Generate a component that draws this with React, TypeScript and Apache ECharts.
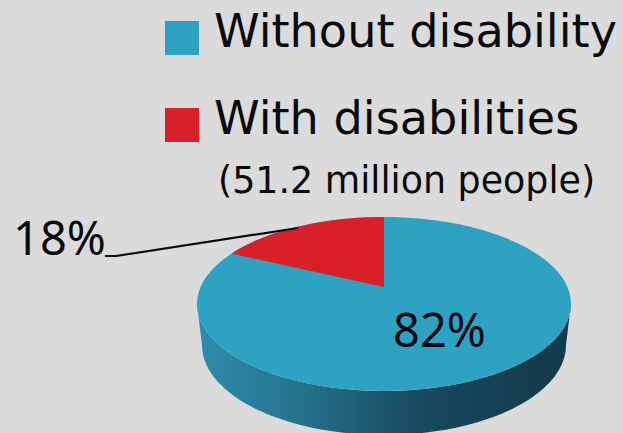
import React, { useEffect, useRef } from "react";
import * as echarts from "echarts";

const seriesNames = ["Without disability", "With disabilities"];
const seriesValues = [82, 18];
const seriesColors = ["#2ea2c2", "#d91f27"];
const subLabel = "(51.2 million people)";

const FONT = "'Noto Sans', sans-serif";
const LEGEND_FONT = "'DejaVu Sans', sans-serif";
const TOP = { cx: 384, cy: 304, rx: 187, ry: 87, tipY: 287 };
const BOTTOM = { cx: 384, cy: 345, rx: 182, ry: 90 };

// Point where a ray from the pie's tilted centre, at the value's angle, meets the top ellipse.
function rimPoint(frac: number): number[] {
  const a = frac * Math.PI * 2;
  const dx = -Math.sin(a) * TOP.rx;
  const dy = -Math.cos(a) * TOP.ry;
  const off = TOP.tipY - TOP.cy;
  const A = (dx * dx) / (TOP.rx * TOP.rx) + (dy * dy) / (TOP.ry * TOP.ry);
  const B = (2 * off * dy) / (TOP.ry * TOP.ry);
  const C = (off * off) / (TOP.ry * TOP.ry) - 1;
  const s = (-B + Math.sqrt(B * B - 4 * A * C)) / (2 * A);
  return [TOP.cx + dx * s, TOP.tipY + dy * s];
}

function ellipsePoints(e: any, from: number, to: number, n: number): number[][] {
  const out: number[][] = [];
  for (let i = 0; i <= n; i++) {
    const t = from + ((to - from) * i) / n;
    out.push([e.cx + e.rx * Math.cos(t), e.cy + e.ry * Math.sin(t)]);
  }
  return out;
}

function renderWithout(_p: any, api: any) {
  const value = api.value(0);
  const side = [
    ...ellipsePoints(TOP, Math.PI, 0, 60),
    ...ellipsePoints(BOTTOM, 0, Math.PI, 80),
  ];
  return {
    type: "group",
    children: [
      {
        type: "polygon",
        shape: { points: side },
        style: {
          fill: new echarts.graphic.LinearGradient(0, 0, 1, 0, [
            { offset: 0, color: "#2f8dac" },
            { offset: 0.3, color: "#237089" },
            { offset: 0.6, color: "#17495d" },
            { offset: 1, color: "#123a4a" },
          ]),
        },
      },
      {
        type: "ellipse",
        shape: { cx: TOP.cx, cy: TOP.cy, rx: TOP.rx, ry: TOP.ry },
        style: { fill: seriesColors[0] },
      },
      {
        type: "text",
        x: 393,
        y: 329,
        style: {
          text: value + "%",
          font: `47px ${FONT}`,
          fill: "#0a0a14",
          textAlign: "left",
          textVerticalAlign: "middle",
        },
      },
    ],
  };
}

function renderWith(_p: any, api: any) {
  const value = api.value(0);
  const frac = value / 100;
  const pts: number[][] = [[TOP.cx, TOP.tipY]];
  for (let i = 0; i <= 40; i++) pts.push(rimPoint((frac * i) / 40));
  return {
    type: "group",
    children: [
      {
        type: "polygon",
        shape: { points: pts },
        style: { fill: seriesColors[1] },
      },
      {
        type: "polyline",
        shape: { points: [[105, 256], [116, 256], [298, 228]] },
        style: { stroke: "#0a0a0a", lineWidth: 2.2, fill: "none" },
      },
      {
        type: "text",
        x: 13,
        y: 237,
        style: {
          text: value + "%",
          font: `47px ${FONT}`,
          fill: "#0a0a0a",
          textAlign: "left",
          textVerticalAlign: "middle",
        },
      },
    ],
  };
}

export default function App() {
  const ref = useRef<HTMLDivElement>(null);
  useEffect(() => {
    document.body.style.margin = "0";
    const chart = echarts.init(ref.current!, undefined, { renderer: "svg" });
    chart.setOption({
      animation: false,
      backgroundColor: "#dbdbdb",
      legend: {
        orient: "vertical",
        left: 165,
        top: 8,
        padding: 0,
        itemWidth: 34,
        itemHeight: 34,
        itemGap: 40,
        selectedMode: false,
        icon: "rect",
        data: seriesNames,
        formatter: "{a|{name}}",
        textStyle: {
          rich: {
            a: {
              fontFamily: LEGEND_FONT,
              fontSize: 46.2,
              color: "#0a0a0a",
              padding: [0, 0, 14, 10],
            },
          },
        },
      },
      series: [
        {
          type: "custom",
          name: seriesNames[0],
          coordinateSystem: "none",
          silent: true,
          itemStyle: { color: seriesColors[0] },
          data: [seriesValues[0]],
          renderItem: renderWithout,
        },
        {
          type: "custom",
          name: seriesNames[1],
          coordinateSystem: "none",
          silent: true,
          itemStyle: { color: seriesColors[1] },
          data: [seriesValues[1]],
          renderItem: renderWith,
        },
      ],
      graphic: [
        {
          type: "text",
          x: 218,
          y: 180,
          style: {
            text: subLabel,
            font: `36.4px ${LEGEND_FONT}`,
            fill: "#0a0a0a",
            textVerticalAlign: "middle",
          },
        },
      ],
    });
    return () => chart.dispose();
  }, []);
  return <div ref={ref} style={{ width: 623, height: 433 }} />;
}
